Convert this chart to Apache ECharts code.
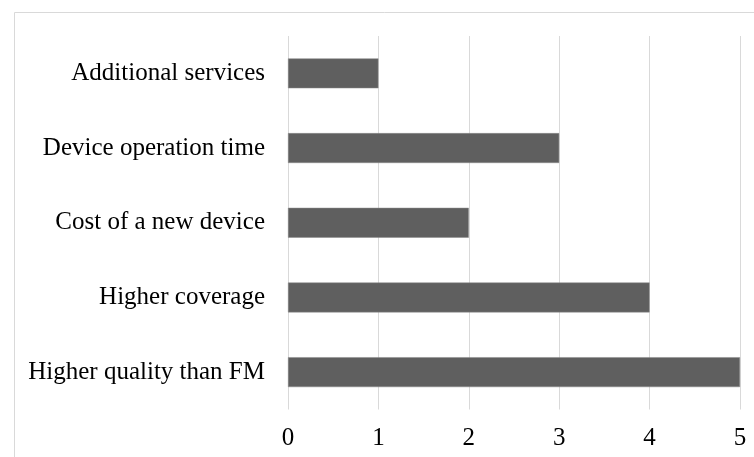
<!DOCTYPE html>
<html><head><meta charset="utf-8">
<script src="https://cdn.jsdelivr.net/npm/echarts@6/dist/echarts.min.js"></script>
<style>html,body{margin:0;padding:0;background:#fff}#c{width:754px;height:457px}</style>
</head><body><div id="c"></div>
<script>
var categories = ['Higher quality than FM', 'Higher coverage', 'Cost of a new device', 'Device operation time', 'Additional services'];
var values = [5, 4, 2, 3, 1];
var xTicks = [0, 1, 2, 3, 4, 5];

var chart = echarts.init(document.getElementById('c'), null, {renderer: 'canvas'});
var font = '"Liberation Serif", "Times New Roman", serif';
chart.setOption({
  animation: false,
  graphic: [{type: 'rect', shape: {x: 14.5, y: 12.5, width: 800, height: 500}, style: {fill: 'none', stroke: '#d9d9d9', lineWidth: 1}, z: -1}],
  grid: {left: 288, right: 14, top: 36, bottom: 47.5},
  xAxis: {
    type: 'value', min: xTicks[0], max: xTicks[xTicks.length - 1], interval: 1,
    axisLine: {show: false}, axisTick: {show: false},
    splitLine: {show: true, lineStyle: {color: '#d9d9d9', width: 1}},
    axisLabel: {color: '#000', fontFamily: font, fontSize: 25, margin: 16}
  },
  yAxis: {
    type: 'category', data: categories,
    axisLine: {show: false}, axisTick: {show: false},
    axisLabel: {color: '#000', fontFamily: font, fontSize: 25, margin: 23}
  },
  series: [{
    type: 'bar', data: values, barCategoryGap: '60%',
    itemStyle: {color: '#5f5f5f', borderColor: '#8a8a8a', borderWidth: 0.5}
  }]
});
</script></body></html>
